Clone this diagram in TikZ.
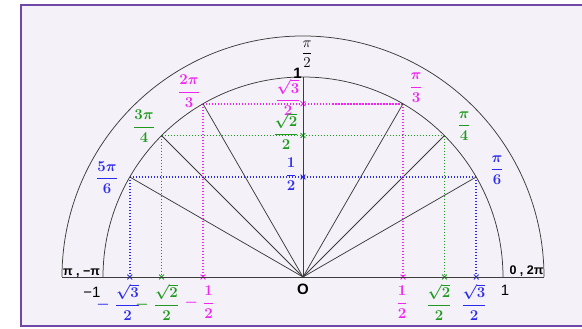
\documentclass[tikz,border=0pt]{standalone}
\usepackage{amsmath}
\usepackage{fontspec}
\newfontfamily\sanslbl{Liberation Sans}
\usepackage{xcolor}
\definecolor{cFrame}{HTML}{7048A8}
\definecolor{cBack}{HTML}{F4F1F8}
\definecolor{cLine}{HTML}{3C3C3C}
\definecolor{cBlue}{HTML}{2B2BEE}
\definecolor{cGreen}{HTML}{1F9A1F}
\definecolor{cPink}{HTML}{F025F0}
\usepackage{tikz}
\usetikzlibrary{calc,shapes.misc}
\tikzset{
  line-thin/.style={draw=cLine,line width=0.6pt},
  line-proj/.style={dash pattern=on 1.2pt off 1.2pt,line width=1.2pt},
  mark-x/.style={cross out,draw,line width=0.7pt,minimum size=3.2pt,inner sep=0pt},
  lbl-frac/.style={font=\large\boldmath,inner sep=0pt},
  lbl-sans/.style={font=\sanslbl\bfseries,inner sep=0pt},
}

\begin{document}
\begin{tikzpicture}[x=160pt,y=160pt]
  \useasboundingbox (-1.515,-0.255) rectangle (1.395,1.385);
  \fill[cBack] (-1.41,-0.2475) rectangle (1.5,1.36);
  \draw[cFrame,line width=1.6pt] (-1.41,-0.2475) rectangle (1.5,1.36);

  \coordinate (O) at (0,0);
  \coordinate (top) at (90:1);

  % points on the circle, projections on both axes
  \foreach \a/\c in {30/cBlue,45/cGreen,60/cPink}{
    \coordinate (r\a) at (\a:1);
    \coordinate (l\a) at ({180-\a}:1);
    \node[mark-x,\c] (xr\a) at (r\a |- O) {};
    \node[mark-x,\c] (xl\a) at (l\a |- O) {};
    \node[mark-x,\c] (y\a) at (top |- r\a) {};
    \draw[line-proj,\c] (l\a) -- (r\a);
    \draw[line-proj,\c] (l\a) -- (xl\a.center);
    \draw[line-proj,\c] (r\a) -- (xr\a.center);
    \draw[line-thin] (O) -- (l\a);
    \draw[line-thin] (O) -- (r\a);
  }

  % axis and the two half circles
  \draw[line-thin] (-1.205,0) -- (1.205,0);
  \draw[line-thin] (1.205,0) arc[start angle=0,end angle=180,radius=1.205];
  \draw[line-thin] (1,0) arc[start angle=0,end angle=180,radius=1];
  \draw[line-thin] (O) -- (top);

  % angles
  \node[lbl-frac,cBlue]  (a30)  at (0.97,0.535)   {$\dfrac{\pi}{6}$};
  \node[lbl-frac,cGreen] (a45)  at (0.805,0.755)  {$\dfrac{\pi}{4}$};
  \node[lbl-frac,cPink]  (a60)  at (0.565,0.9475) {$\dfrac{\pi}{3}$};
  \node[font=\large,inner sep=0pt] (a90) at (0.02,1.115) {$\dfrac{\pi}{2}$};
  \node[lbl-frac,cPink]  (a120) at (-0.57,0.93)   {$\dfrac{2\pi}{3}$};
  \node[lbl-frac,cGreen] (a135) at (-0.795,0.755) {$\dfrac{3\pi}{4}$};
  \node[lbl-frac,cBlue]  (a150) at (-0.98,0.4975) {$\dfrac{5\pi}{6}$};

  % sines
  \node[lbl-frac,cPink]  (s60) at (-0.075,0.8975) {$\dfrac{\sqrt{3}}{2}$};
  \node[lbl-frac,cGreen] (s45) at (-0.085,0.73)   {$\dfrac{\sqrt{2}}{2}$};
  \node[lbl-frac,cBlue]  (s30) at (-0.06,0.515)   {$\dfrac{1}{2}$};

  % cosines
  \node[lbl-frac,cBlue]  (c150) at (-0.8775,-0.125) {$\llap{$-\;$}\dfrac{\sqrt{3}}{2}$};
  \node[lbl-frac,cGreen] (c135) at (-0.6825,-0.125) {$\llap{$-\;$}\dfrac{\sqrt{2}}{2}$};
  \node[lbl-frac,cPink]  (c120) at (-0.4725,-0.125) {$\llap{$-\;$}\dfrac{1}{2}$};
  \node[lbl-frac,cPink]  (c60)  at (0.495,-0.125)   {$\dfrac{1}{2}$};
  \node[lbl-frac,cGreen] (c45)  at (0.68,-0.125)    {$\dfrac{\sqrt{2}}{2}$};
  \node[lbl-frac,cBlue]  (c30)  at (0.855,-0.125)   {$\dfrac{\sqrt{3}}{2}$};

  % black marks
  \node[lbl-sans,font=\sanslbl\bfseries\large] (one-top) at (-0.0275,1.02) {1};
  \node[lbl-sans,font=\sanslbl\bfseries\large] (origin) at (0,-0.06) {O};
  \node[lbl-sans,font=\sanslbl\large] (minus-one) at (-1.055,-0.075) {−1};
  \node[lbl-sans,font=\sanslbl\large] (plus-one) at (1.01,-0.065) {1};
  \node[lbl-sans] (pi-left) at (-1.1075,0.02) {π , −π};
  \node[lbl-sans] (zero-right) at (1.1175,0.0275) {0 , 2π};
\end{tikzpicture}
\end{document}
